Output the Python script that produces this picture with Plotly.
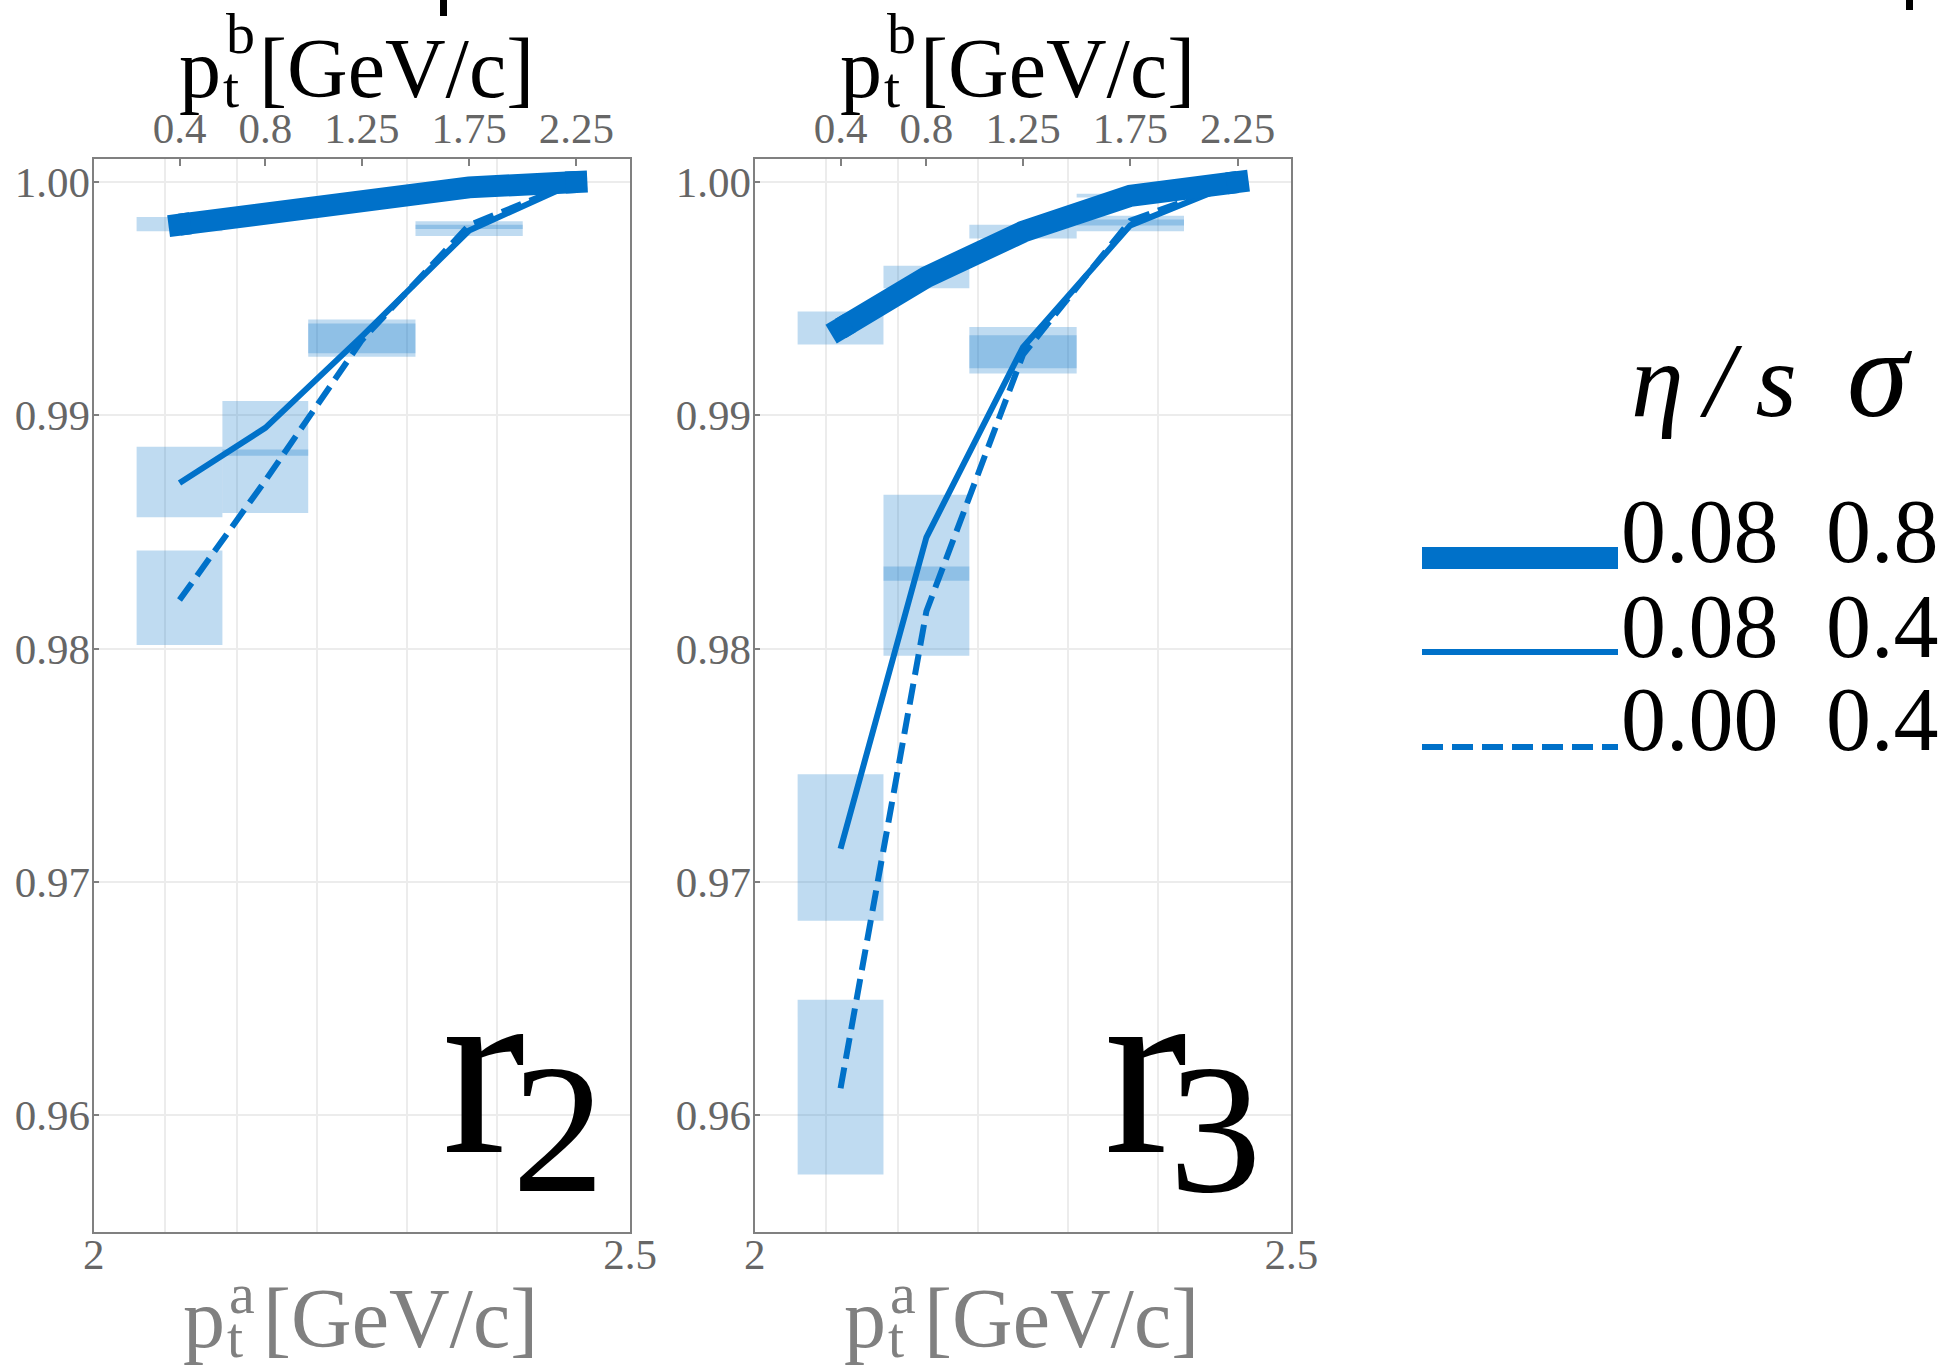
import math
import plotly.graph_objects as go

W, H = 1944, 1369

# ---------------- data ----------------
PTB_CENTERS = [0.4, 0.8, 1.25, 1.75, 2.25]
PTB_LO = [0.2, 0.6, 1.0, 1.5, 2.0]
PTB_HI = [0.6, 1.0, 1.5, 2.0, 2.5]
PTB_TICKS = [0.4, 0.8, 1.25, 1.75, 2.25]
PTB_TICKTEXT = ["0.4", "0.8", "1.25", "1.75", "2.25"]
PTB_GRID = [0.3333, 0.6667, 1.0393, 1.4588, 1.8785]
PTA_RANGE = [2.0, 2.5]
PTA_TICKS = [2.0, 2.5]
PTA_TICKTEXT = ["2", "2.5"]
Y_TICKS = [0.96, 0.97, 0.98, 0.99, 1.00]
Y_TICKTEXT = ["0.96", "0.97", "0.98", "0.99", "1.00"]

ETA_S = ["0.08", "0.08", "0.00"]
SIGMA = ["0.8", "0.4", "0.4"]

# r2 panel
R2_THICK = [0.99817, 0.99865, 0.99931, 0.99977, 1.00000]
R2_SOLID = [0.98710, 0.98946, 0.99338, 0.99792, 1.00000]
R2_DASHED = [0.98208, 0.98720, 0.99322, 0.99815, 1.00000]
R2_THICK_LO = [0.99789, None, None, None, None]
R2_THICK_HI = [0.99850, None, None, None, None]
R2_SOLID_LO = [0.98563, 0.98826, 0.99266, 0.99768, None]
R2_SOLID_HI = [0.98865, 0.99061, 0.99411, 0.99817, None]
R2_DASHED_LO = [0.98015, 0.98581, 0.99251, 0.99798, None]
R2_DASHED_HI = [0.98420, 0.98853, 0.99393, 0.99832, None]

# r3 panel
R3_THICK = [0.99372, 0.99592, 0.99787, 0.99941, 1.00000]
R3_SOLID = [0.97142, 0.98477, 0.99292, 0.99814, 1.00000]
R3_DASHED = [0.96115, 0.98160, 0.99260, 0.99834, 1.00000]
R3_THICK_LO = [0.99303, 0.99544, 0.99758, 0.99934, None]
R3_THICK_HI = [0.99445, 0.99641, 0.99817, 0.99950, None]
R3_SOLID_LO = [0.96833, 0.98291, 0.99202, 0.99789, None]
R3_SOLID_HI = [0.97461, 0.98659, 0.99378, 0.99839, None]
R3_DASHED_LO = [0.95745, 0.97969, 0.99179, 0.99813, None]
R3_DASHED_HI = [0.96494, 0.98352, 0.99343, 0.99855, None]

# ---------------- style / layout constants ----------------
BLUE = "rgb(0,113,201)"
BOX_FILL = "rgba(0,113,201,0.25)"
FRAME = "#808080"
GRID = "#ececec"
TICKFONT = dict(family="Liberation Serif", size=43, color="#666666")
SERIF = "Liberation Serif"
THICK_W = 22
THIN_W = 6
DASH = "21px,9px"

X_RANGE_TOP = [0, 2.5]
Y_RANGE = [0.95497, 1.000986]

P1 = (93.7, 630.0)
P2 = (754.7, 1291.3)
PTOP, PBOT = 159.0, 1232.4


def px(x):
    return x / W


def py(y):
    return 1 - y / H


plot_w = P1[1] - P1[0]
plot_h = PBOT - PTOP
SX = plot_w / (X_RANGE_TOP[1] - X_RANGE_TOP[0])
SY = plot_h / (Y_RANGE[1] - Y_RANGE[0])

fig = go.Figure()


def add_boxes(lo, hi, xa, ya):
    xs, ys = [], []
    for i in range(len(lo)):
        if lo[i] is None:
            continue
        xs += [PTB_LO[i], PTB_HI[i], PTB_HI[i], PTB_LO[i], PTB_LO[i], None]
        ys += [lo[i], lo[i], hi[i], hi[i], lo[i], None]
    fig.add_trace(go.Scatter(x=xs, y=ys, xaxis=xa, yaxis=ya, mode="lines",
                             fill="toself", fillcolor=BOX_FILL,
                             line=dict(width=0, color="rgba(0,0,0,0)"),
                             hoverinfo="skip", showlegend=False))


def cap_angles(ys):
    a0 = math.degrees(math.atan2(-(ys[1] - ys[0]) * SY, (PTB_CENTERS[1] - PTB_CENTERS[0]) * SX))
    a1 = math.degrees(math.atan2(-(ys[-1] - ys[-2]) * SY, (PTB_CENTERS[-1] - PTB_CENTERS[-2]) * SX))
    return [a0, 0, 0, 0, a1]


def add_panel(thick, solid, dashed, boxes, xa, ya, xa_bottom):
    # invisible trace so that the p_t^a (bottom) axis gets drawn
    fig.add_trace(go.Scatter(x=PTA_RANGE, y=[None, None], xaxis=xa_bottom, yaxis=ya,
                             mode="lines", hoverinfo="skip", showlegend=False))
    for lo, hi in boxes:
        add_boxes(lo, hi, xa, ya)
    fig.add_trace(go.Scatter(x=PTB_CENTERS, y=dashed, xaxis=xa, yaxis=ya, mode="lines",
                             line=dict(color=BLUE, width=THIN_W, dash=DASH),
                             showlegend=False))
    fig.add_trace(go.Scatter(x=PTB_CENTERS, y=solid, xaxis=xa, yaxis=ya, mode="lines",
                             line=dict(color=BLUE, width=THIN_W),
                             showlegend=False))
    fig.add_trace(go.Scatter(x=PTB_CENTERS, y=thick, xaxis=xa, yaxis=ya, mode="lines+markers",
                             line=dict(color=BLUE, width=THICK_W),
                             marker=dict(symbol="square", color=BLUE, opacity=1,
                                         size=[THICK_W, 0, 0, 0, THICK_W],
                                         angle=cap_angles(thick),
                                         line=dict(width=0)),
                             showlegend=False))


add_panel(R2_THICK, R2_SOLID, R2_DASHED,
          [(R2_THICK_LO, R2_THICK_HI), (R2_SOLID_LO, R2_SOLID_HI), (R2_DASHED_LO, R2_DASHED_HI)],
          "x", "y", "x3")
add_panel(R3_THICK, R3_SOLID, R3_DASHED,
          [(R3_THICK_LO, R3_THICK_HI), (R3_SOLID_LO, R3_SOLID_HI), (R3_DASHED_LO, R3_DASHED_HI)],
          "x2", "y2", "x4")


def top_axis(dom, anchor):
    # primary axis (p_t^b), labelled on top of the frame
    return dict(domain=dom, anchor=anchor, side="top", range=X_RANGE_TOP,
                tickmode="array", tickvals=PTB_TICKS, ticktext=PTB_TICKTEXT,
                ticks="inside", ticklen=7, tickwidth=1.5, tickcolor=FRAME,
                ticklabelstandoff=-3,
                showgrid=False,
                minor=dict(tickmode="array", tickvals=PTB_GRID, showgrid=True,
                           gridcolor=GRID, gridwidth=1.5, ticks=""),
                showline=True, linecolor=FRAME, linewidth=2, mirror=True,
                zeroline=False, tickfont=TICKFONT, fixedrange=True, automargin=False)


def bottom_axis(dom, over, anchor):
    return dict(domain=dom, overlaying=over, anchor=anchor, side="bottom",
                range=PTA_RANGE, tickmode="array", tickvals=PTA_TICKS,
                ticktext=PTA_TICKTEXT, ticks="", showgrid=False,
                ticklabelstandoff=-7,
                showline=False, zeroline=False, tickfont=TICKFONT, fixedrange=True,
                automargin=False)


def y_axis(anchor):
    return dict(domain=[py(PBOT), py(PTOP)], anchor=anchor, range=Y_RANGE,
                tickmode="array", tickvals=Y_TICKS, ticktext=Y_TICKTEXT,
                ticks="inside", ticklen=5, tickwidth=1.5, tickcolor=FRAME,
                ticklabelstandoff=-7,
                showgrid=True, gridcolor=GRID, gridwidth=1.5,
                showline=True, linecolor=FRAME, linewidth=2, mirror=True,
                zeroline=False, tickfont=TICKFONT, fixedrange=True, automargin=False)


annotations = []


def text(s, x, y, size, color="black", italic=False):
    base_off = 0.3375 * size
    annotations.append(dict(text=("<i>%s</i>" % s) if italic else s,
                            x=px(x), y=py(y - base_off), xref="paper", yref="paper",
                            xanchor="left", yanchor="middle", showarrow=False,
                            borderpad=0,
                            font=dict(family=SERIF, size=size, color=color)))


for off in (0.0, 661.0):
    # top title  p_t^b[GeV/c]
    text("p", 178 + off, 97, 84)
    text("t", 222 + off, 107, 58)
    text("b", 225 + off, 53, 58)
    text("[GeV/c]", 258 + off, 97, 84)
    # bottom title p_t^a[GeV/c]
    text("p", 182 + off, 1347, 84, "#808080")
    text("t", 226 + off, 1357, 58, "#808080")
    text("a", 228 + off, 1313, 58, "#808080")
    text("[GeV/c]", 262 + off, 1347, 84, "#808080")

# panel labels r2, r3
text("r", 441, 1152, 250)
text("2", 511, 1191, 185)
text("r", 1103, 1152, 250)
text("3", 1168, 1191, 185)

# legend header and rows
text("η\u2009/\u2009s", 1630, 416, 106, italic=True)
text("σ", 1846, 416, 124, italic=True)
ROW_BASE = [562, 657, 750]
for i in range(3):
    text(ETA_S[i], 1620, ROW_BASE[i], 90)
    text(SIGMA[i], 1825, ROW_BASE[i], 90)

shapes = [
    dict(type="line", xref="paper", yref="paper", x0=px(1422), x1=px(1618), y0=py(558), y1=py(558),
         line=dict(color=BLUE, width=22)),
    dict(type="line", xref="paper", yref="paper", x0=px(1422), x1=px(1618), y0=py(652), y1=py(652),
         line=dict(color=BLUE, width=6)),
    dict(type="line", xref="paper", yref="paper", x0=px(1422), x1=px(1618), y0=py(747), y1=py(747),
         line=dict(color=BLUE, width=6, dash=DASH)),
    # cropped glyph fragments at the top edge
    dict(type="rect", xref="paper", yref="paper", x0=px(440), x1=px(447), y0=py(16), y1=py(0),
         fillcolor="black", line=dict(width=0)),
    dict(type="rect", xref="paper", yref="paper", x0=px(1906), x1=px(1913), y0=py(10), y1=py(0),
         fillcolor="black", line=dict(width=0)),
]

fig.update_layout(
    width=W, height=H, margin=dict(l=0, r=0, t=0, b=0, autoexpand=False),
    paper_bgcolor="white", plot_bgcolor="white", showlegend=False,
    xaxis=top_axis([px(P1[0]), px(P1[1])], "y"),
    xaxis2=top_axis([px(P2[0]), px(P2[1])], "y2"),
    xaxis3=bottom_axis([px(P1[0]), px(P1[1])], "x", "y"),
    xaxis4=bottom_axis([px(P2[0]), px(P2[1])], "x2", "y2"),
    yaxis=y_axis("x"),
    yaxis2=y_axis("x2"),
    annotations=annotations, shapes=shapes,
)

fig.write_html("out.html")
